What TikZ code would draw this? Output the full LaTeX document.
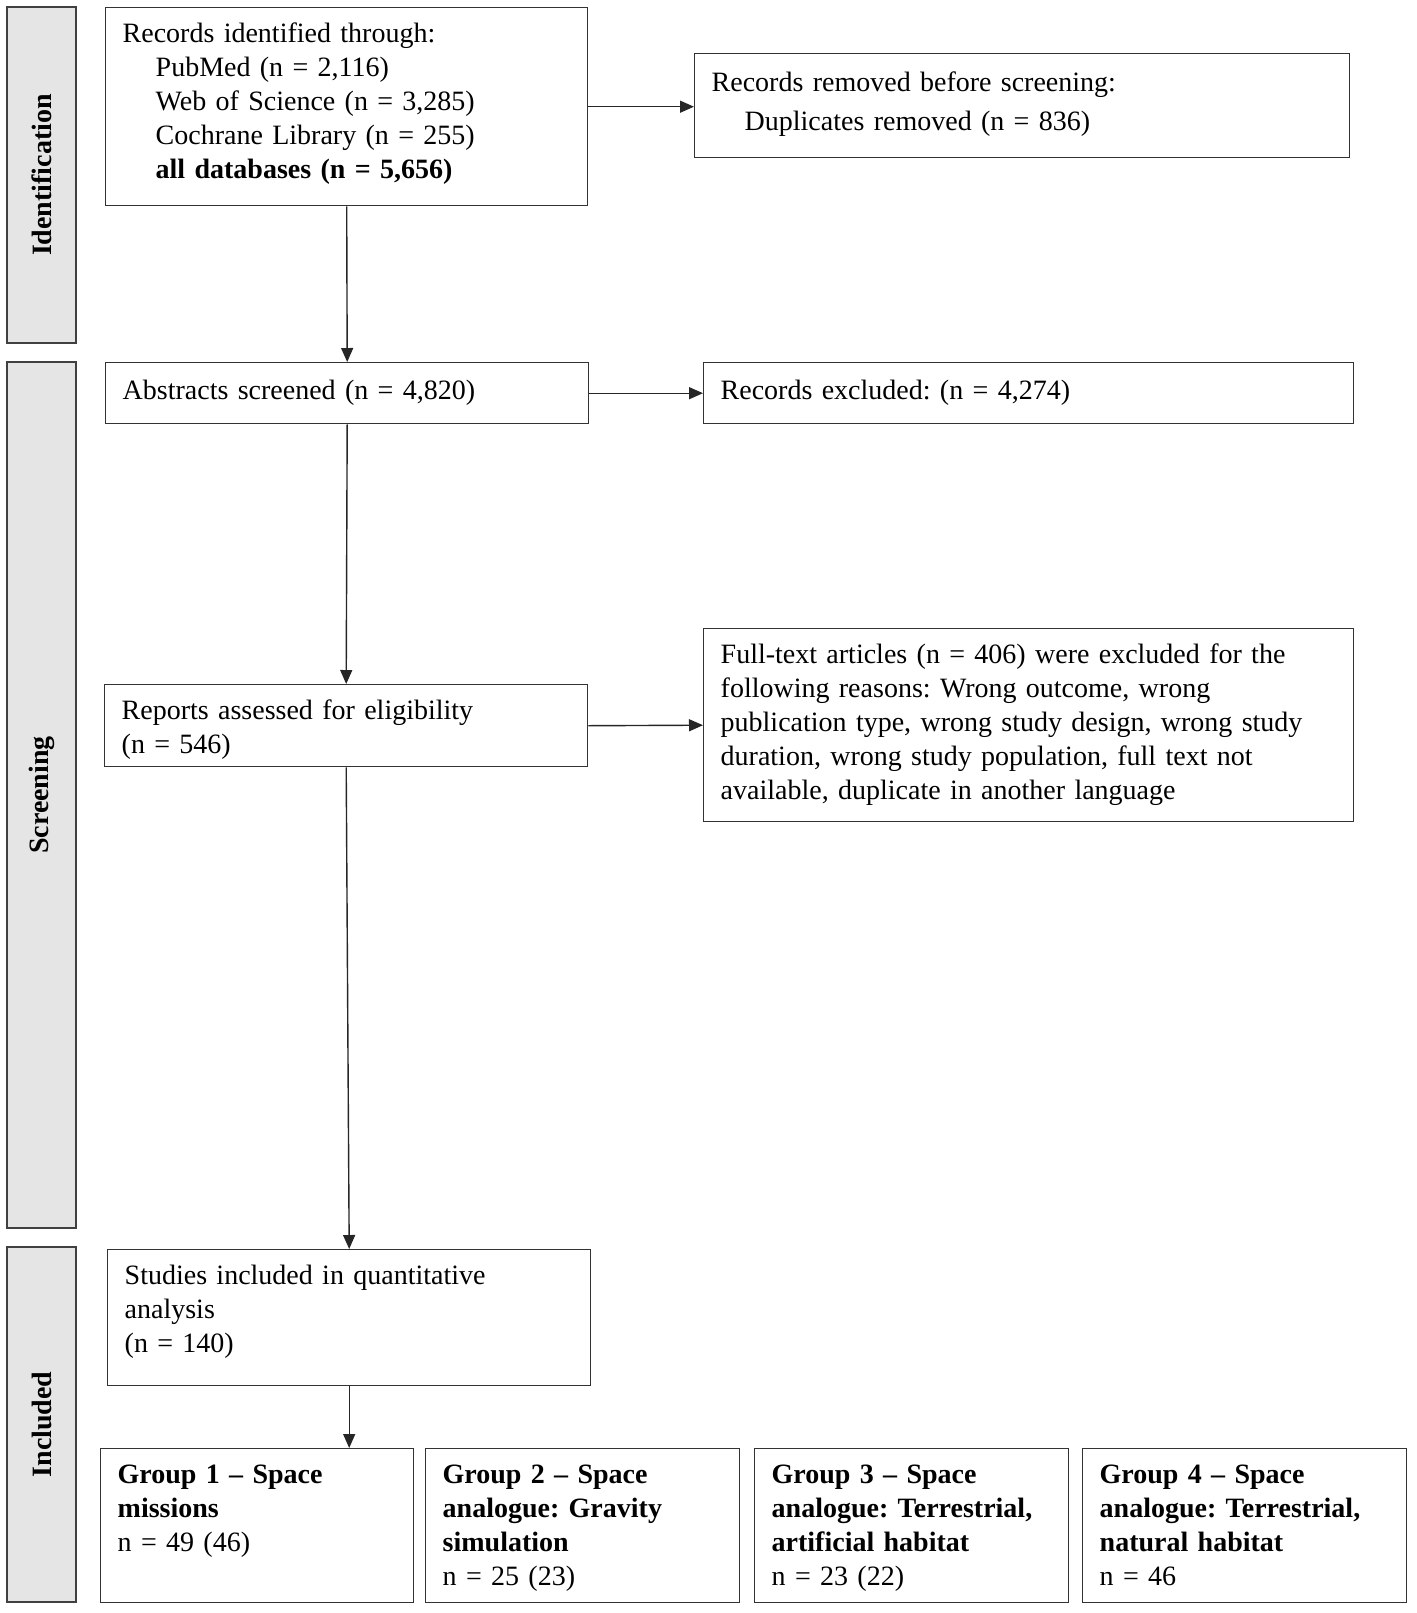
\documentclass[tikz,border=0pt]{standalone}
\usepackage{fontspec}
\setmainfont{Liberation Serif}
\frenchspacing
\usetikzlibrary{positioning,calc,arrows.meta}
\tikzset{
  box/.style={draw=black!80, line width=0.7pt, anchor=north west, align=left, inner xsep=8.5pt, inner ysep=0pt, text height=17.5pt, font=\fontsize{14}{17}\selectfont},
  side/.style={draw=black!75, fill=black!10, line width=0.7pt, rotate=90, inner sep=0pt, minimum height=34.5pt, font=\fontsize{14}{17}\selectfont\bfseries},
  arr/.style={draw=black!85, line width=0.7pt, -{Triangle[length=7pt,width=6pt]}}
}
\newcommand{\ind}{\hspace*{16.5pt}}

\begin{document}
\begin{tikzpicture}[x=0.5pt,y=-0.5pt]
\useasboundingbox (0,0) rectangle (1417,1613);

\node[side, minimum width=168pt] (idf) at (41.5,175) {Identification};
\node[side, minimum width=433pt] (scr) at (41.5,795) {Screening};
\node[side, minimum width=177.5pt] (inc) at (41.5,1424.5) {Included};

\node[box, text width=224pt, text depth=81.5pt] (rec) at (105,7)
  {Records identified through:\\
   \ind PubMed (n = 2,116)\\
   \ind Web of Science (n = 3,285)\\
   \ind Cochrane Library (n = 255)\\
   \ind\textbf{all databases (n = 5,656)}};
\node[box, text width=310.5pt, text height=19pt, text depth=33pt, font=\fontsize{14}{19.5}\selectfont] (rem) at (694,53)
  {Records removed before screening:\\
   \ind Duplicates removed (n = 836)};
\node[box, text width=224.5pt, text height=18.5pt, text depth=12pt] (abs) at (105,362)
  {Abstracts screened (n = 4,820)};
\node[box, text width=308pt, text height=18.5pt, text depth=12pt] (exc) at (703,362)
  {Records excluded: (n = 4,274)};
\node[box, text width=224.5pt, text depth=23.5pt] (rep) at (104,684)
  {Reports assessed for eligibility\\(n = 546)};
\node[box, text width=308pt, text depth=79pt] (full) at (703,628)
  {Full-text articles (n = 406) were excluded for the\\
   following reasons: Wrong outcome, wrong\\
   publication type, wrong study design, wrong study\\
   duration, wrong study population, full text not\\
   available, duplicate in another language};
\node[box, text width=224.5pt, text depth=50.5pt] (stu) at (107,1249)
  {Studies included in quantitative\\analysis\\(n = 140)};

\node[box, text width=139.5pt, text depth=59.5pt] (g1) at (100,1448)
  {\textbf{Group 1 -- Space}\\\textbf{missions}\\n = 49 (46)};
\node[box, text width=140pt, text depth=59.5pt] (g2) at (425,1448)
  {\textbf{Group 2 -- Space}\\\textbf{analogue: Gravity}\\\textbf{simulation}\\n = 25 (23)};
\node[box, text width=140pt, text depth=59.5pt] (g3) at (754,1448)
  {\textbf{Group 3 -- Space}\\\textbf{analogue: Terrestrial,}\\\textbf{artificial habitat}\\n = 23 (22)};
\node[box, text width=145pt, text depth=59.5pt] (g4) at (1082,1448)
  {\textbf{Group 4 -- Space}\\\textbf{analogue: Terrestrial,}\\\textbf{natural habitat}\\n = 46};

\draw[arr] (rec.east) -- (rec.east -| rem.west);
\draw[arr] (rec.south) -- (abs.north);
\draw[arr] (abs.east) -- (exc.west);
\draw[arr] (abs.south) -- (rep.north);
\draw[arr] (rep.east) -- (full.west);
\draw[arr] (rep.south) -- (stu.north);
\draw[arr] (stu.south) -- (stu.south |- g1.north);
\end{tikzpicture}
\end{document}
